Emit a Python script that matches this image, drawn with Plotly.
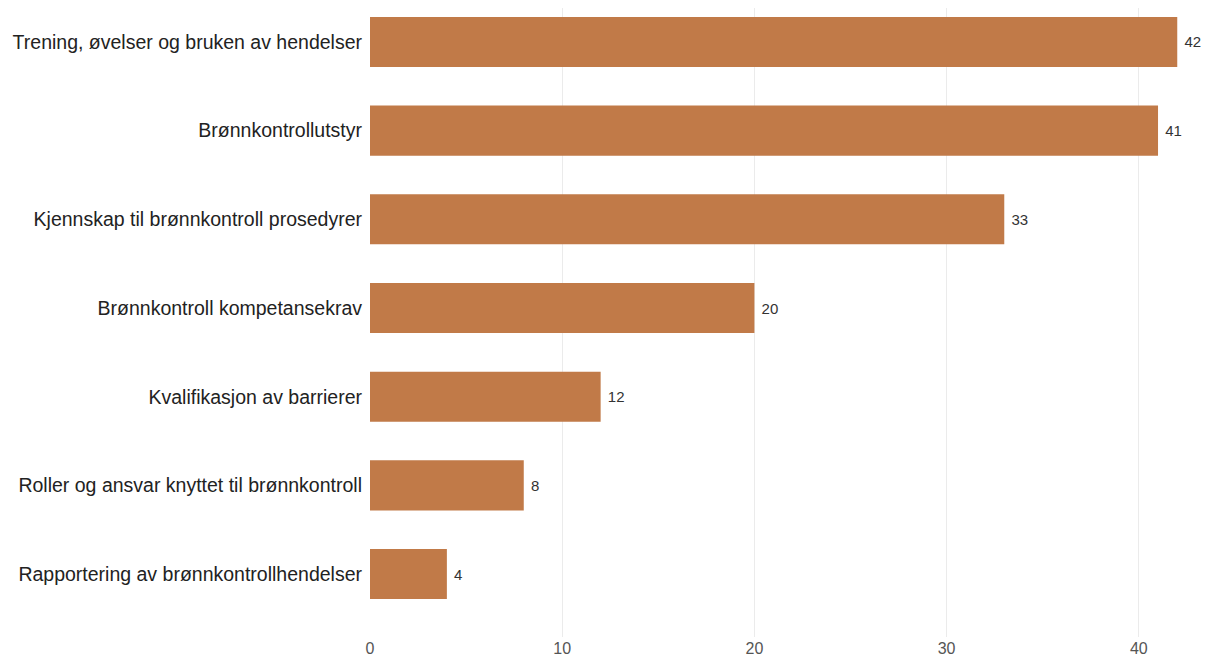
import plotly.graph_objects as go

categories = [
    "Rapportering av brønnkontrollhendelser",
    "Roller og ansvar knyttet til brønnkontroll",
    "Kvalifikasjon av barrierer",
    "Brønnkontroll kompetansekrav",
    "Kjennskap til brønnkontroll prosedyrer",
    "Brønnkontrollutstyr",
    "Trening, øvelser og bruken av hendelser",
]
values = [4, 8, 12, 20, 33, 41, 42]
x_ticks = [0, 10, 20, 30, 40]

fig = go.Figure(go.Bar(
    x=values,
    y=categories,
    orientation="h",
    marker=dict(color="#C17A48", line=dict(width=0)),
    width=0.565,
    text=[str(v) for v in values],
    texttemplate=" %{text}",
    textposition="outside",
    textfont=dict(family="Liberation Sans, Arial, sans-serif", size=15, color="#333333"),
    cliponaxis=False,
))

fig.update_layout(
    width=1211,
    height=662,
    margin=dict(l=362, r=11, t=0, b=33, autoexpand=False),
    paper_bgcolor="white",
    plot_bgcolor="white",
    showlegend=False,
    font=dict(family="Liberation Sans, Arial, sans-serif"),
    xaxis=dict(
        range=[0, 43.6],
        tickvals=x_ticks,
        showgrid=True,
        gridcolor="#EBEBEB",
        gridwidth=1,
        zeroline=False,
        showline=False,
        tickfont=dict(size=16, color="#555555"),
        automargin=False,
    ),
    yaxis=dict(
        type="category",
        categoryorder="array",
        categoryarray=categories,
        range=[-0.71, 6.383],
        showgrid=False,
        zeroline=False,
        showline=False,
        tickfont=dict(size=19.5, color="#222222"),
        ticklabelstandoff=7,
        automargin=False,
    ),
)

fig.write_html("out.html")
